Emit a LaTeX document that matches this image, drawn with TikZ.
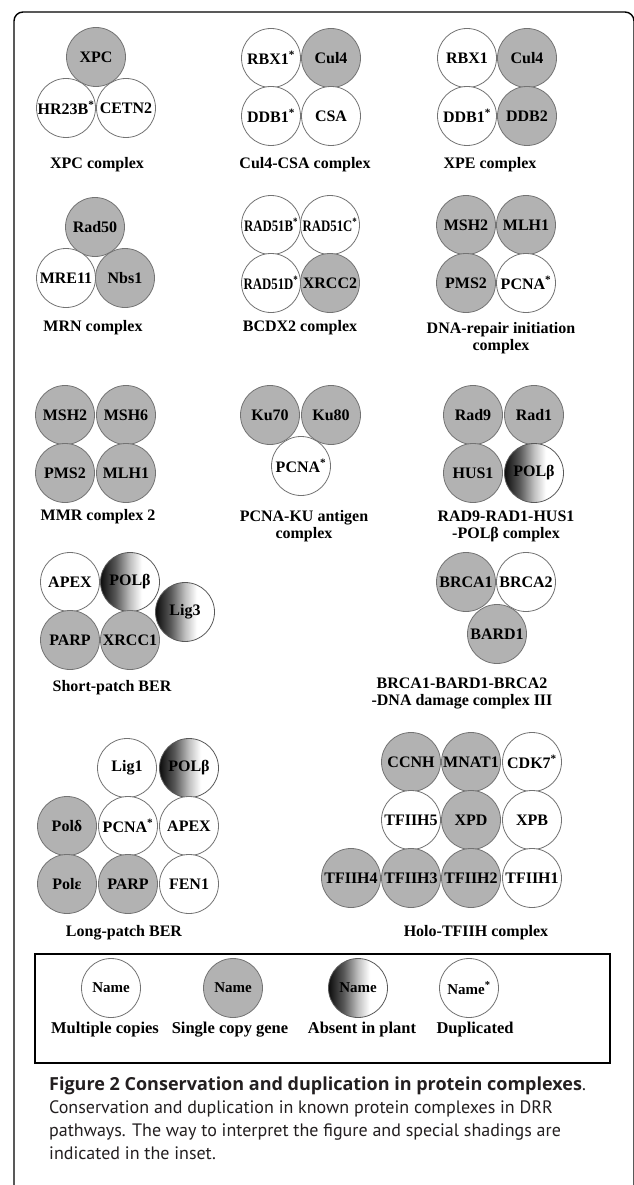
\documentclass[tikz,border=0pt]{standalone}
\usepackage{fontspec}
\usepackage{graphicx}
\setmainfont{Liberation Serif}
\newfontfamily\capfont{PT Sans}
\newfontfamily\capheadfont{Open Sans}
\definecolor{capink}{HTML}{231F20}
\newcommand\dupmark{\textsuperscript{*}}
\newcommand\narrow[1]{\scalebox{0.8}[1]{#1}}
% left-to-right fade used for proteins absent in plants
\pgfdeclarehorizontalshading{absentfade}{100bp}{color(0bp)=(black!95); color(25bp)=(black!95); color(38bp)=(black!65); color(50bp)=(black!25); color(60bp)=(white); color(100bp)=(white)}
\begin{document}
\begin{tikzpicture}[x=1pt,y=-1pt,
  mol/.style={circle, minimum size=59pt, inner sep=0pt, draw=black!55, line width=0.8pt,
              font=\bfseries\fontsize{16}{16}\selectfont, text=black},
  multi/.style={mol, fill=white},
  single/.style={mol, fill=black!30},
  absent/.style={mol, shading=absentfade, draw=black!65},
  cplx/.style={font=\bfseries\fontsize{16}{17}\selectfont, align=center, inner sep=0pt},
  keyname/.style={font=\bfseries\fontsize{15}{15}\selectfont},
  keytext/.style={font=\bfseries\fontsize{16.5}{17}\selectfont, inner sep=0pt},
  capline/.style={font=\capfont\fontsize{18}{22}\selectfont, text=capink, inner sep=0pt, anchor=base west},
  caphead/.style={capline, font=\capheadfont\bfseries\fontsize{18}{22}\selectfont}]
\useasboundingbox (0,0) rectangle (633,1185);
\fill[white] (0,0) rectangle (633,1185);
% outer frame
\draw[line width=1.4pt, rounded corners=9pt] (14,1194) -- (14,12) -- (634,12) -- (634,1194);

% ---------- row 1 ----------
\node[single] (xpcXPC) at (96,57) {XPC};
\node[multi]  (xpcHR)  at (66,108) {HR23B\dupmark};
\node[multi]  (xpcCE)  at (126,108) {CETN2};
\node[cplx]   (xpcL)   at (97,165) {XPC complex};

\node[multi]  (csaRB) at (271,58) {RBX1\dupmark};
\node[single] (csaCU) at (331,58) {Cul4};
\node[multi]  (csaDD) at (271,116) {DDB1\dupmark};
\node[multi]  (csaCS) at (331,116) {CSA};
\node[cplx]   (csaL)  at (305,165) {Cul4-CSA complex};

\node[multi]  (xpeRB) at (467,58) {RBX1};
\node[single] (xpeCU) at (527,58) {Cul4};
\node[multi]  (xpeD1) at (467,116) {DDB1\dupmark};
\node[single] (xpeD2) at (527,116) {DDB2};
\node[cplx]   (xpeL)  at (490,165) {XPE complex};

% ---------- row 2 ----------
\node[single] (mrnR) at (95,227) {Rad50};
\node[multi]  (mrnM) at (66,278) {MRE11};
\node[single] (mrnN) at (125,278) {Nbs1};
\node[cplx]   (mrnL) at (93,328) {MRN complex};

\node[multi]  (bcB) at (271,225) {\narrow{RAD51B\dupmark}};
\node[multi]  (bcC) at (330,225) {\narrow{RAD51C\dupmark}};
\node[multi]  (bcD) at (271,283) {\narrow{RAD51D\dupmark}};
\node[single] (bcX) at (330,283) {XRCC2};
\node[cplx]   (bcL) at (300,328) {BCDX2 complex};

\node[single] (driS) at (466,225) {MSH2};
\node[single] (driM) at (526,225) {MLH1};
\node[single] (driP) at (466,283) {PMS2};
\node[multi]  (driC) at (526,283) {PCNA\dupmark};
\node[cplx]   (driL) at (501,338) {DNA-repair initiation\\complex};

% ---------- row 3 ----------
\node[single] (mmrS2) at (65,415) {MSH2};
\node[single] (mmrS6) at (126,415) {MSH6};
\node[single] (mmrP)  at (65,473) {PMS2};
\node[single] (mmrM)  at (126,473) {MLH1};
\node[cplx]   (mmrL)  at (98,517) {MMR complex 2};

\node[single] (kuA) at (270,415) {Ku70};
\node[single] (kuB) at (331,415) {Ku80};
\node[multi]  (kuP) at (301,466) {PCNA\dupmark};
\node[cplx]   (kuL) at (304,526) {PCNA-KU antigen\\complex};

\node[single] (r9A) at (473,415) {Rad9};
\node[single] (r9B) at (534,415) {Rad1};
\node[single] (r9H) at (473,473) {HUS1};
\node[absent] (r9P) at (534,473) {POLβ};
\node[cplx]   (r9L) at (506,526) {RAD9-RAD1-HUS1\\-POLβ complex};

% ---------- row 4 ----------
\node[multi]  (spA) at (70,582) {APEX};
\node[absent] (spB) at (130,582) {POLβ};
\node[single] (spP) at (70,640) {PARP};
\node[single] (spX) at (130,640) {XRCC1};
\node[absent] (spL3) at (185,612) {Lig3};
\node[cplx]   (spL) at (112,688) {Short-patch BER};

\node[single] (brA) at (466,582) {BRCA1};
\node[multi]  (brB) at (526,582) {BRCA2};
\node[single] (brD) at (497,634) {BARD1};
\node[cplx]   (brL) at (462,693) {BRCA1-BARD1-BRCA2\\-DNA damage complex III};

% ---------- row 5 ----------
\node[multi]  (lpL1) at (127,768) {Lig1};
\node[absent] (lpB)  at (189,768) {POLβ};
\node[single] (lpD)  at (67,826) {Polδ};
\node[multi]  (lpC)  at (128,826) {PCNA\dupmark};
\node[multi]  (lpA)  at (189,826) {APEX};
\node[single] (lpE)  at (67,884) {Polε};
\node[single] (lpP)  at (128,884) {PARP};
\node[multi]  (lpF)  at (189,884) {FEN1};
\node[cplx]   (lpLab) at (124,933) {Long-patch BER};

\node[single] (thCC) at (411,762) {CCNH};
\node[single] (thMN) at (471,762) {MNAT1};
\node[multi]  (thCD) at (532,762) {CDK7\dupmark};
\node[multi]  (th5)  at (411,820) {TFIIH5};
\node[single] (thXD) at (471,820) {XPD};
\node[multi]  (thXB) at (532,820) {XPB};
\node[single] (th4)  at (351,878) {TFIIH4};
\node[single] (th3)  at (411,878) {TFIIH3};
\node[single] (th2)  at (471,878) {TFIIH2};
\node[multi]  (th1)  at (532,878) {TFIIH1};
\node[cplx]   (thL)  at (476,933) {Holo-TFIIH complex};

% ---------- key ----------
\node[draw, line width=2pt, minimum width=575pt, minimum height=109pt, inner sep=0pt] (key) at (322.5,1008) {};
\node[multi, keyname]  (keyM) at (111,988) {Name};
\node[single, keyname] (keyS) at (233,988) {Name};
\node[absent, keyname] (keyA) at (358,988) {Name};
\node[multi, keyname]  (keyD) at (469,988) {Name\dupmark};
\node[keytext] (keyMl) at (105,1030) {Multiple copies};
\node[keytext] (keySl) at (230,1030) {Single copy gene};
\node[keytext] (keyAl) at (362,1030) {Absent in plant};
\node[keytext] (keyDl) at (475,1030) {Duplicated};

% ---------- caption ----------
\node[caphead] (cap1) at (49,1090) {Figure 2 Conservation and duplication in protein complexes{\capfont\mdseries.}};
\node[capline] (cap2) at (49,1113) {Conservation and duplication in known protein complexes in DRR};
\node[capline] (cap3) at (49,1136) {pathways. The way to interpret the figure and special shadings are};
\node[capline] (cap4) at (49,1159) {indicated in the inset.};
\end{tikzpicture}
\end{document}
